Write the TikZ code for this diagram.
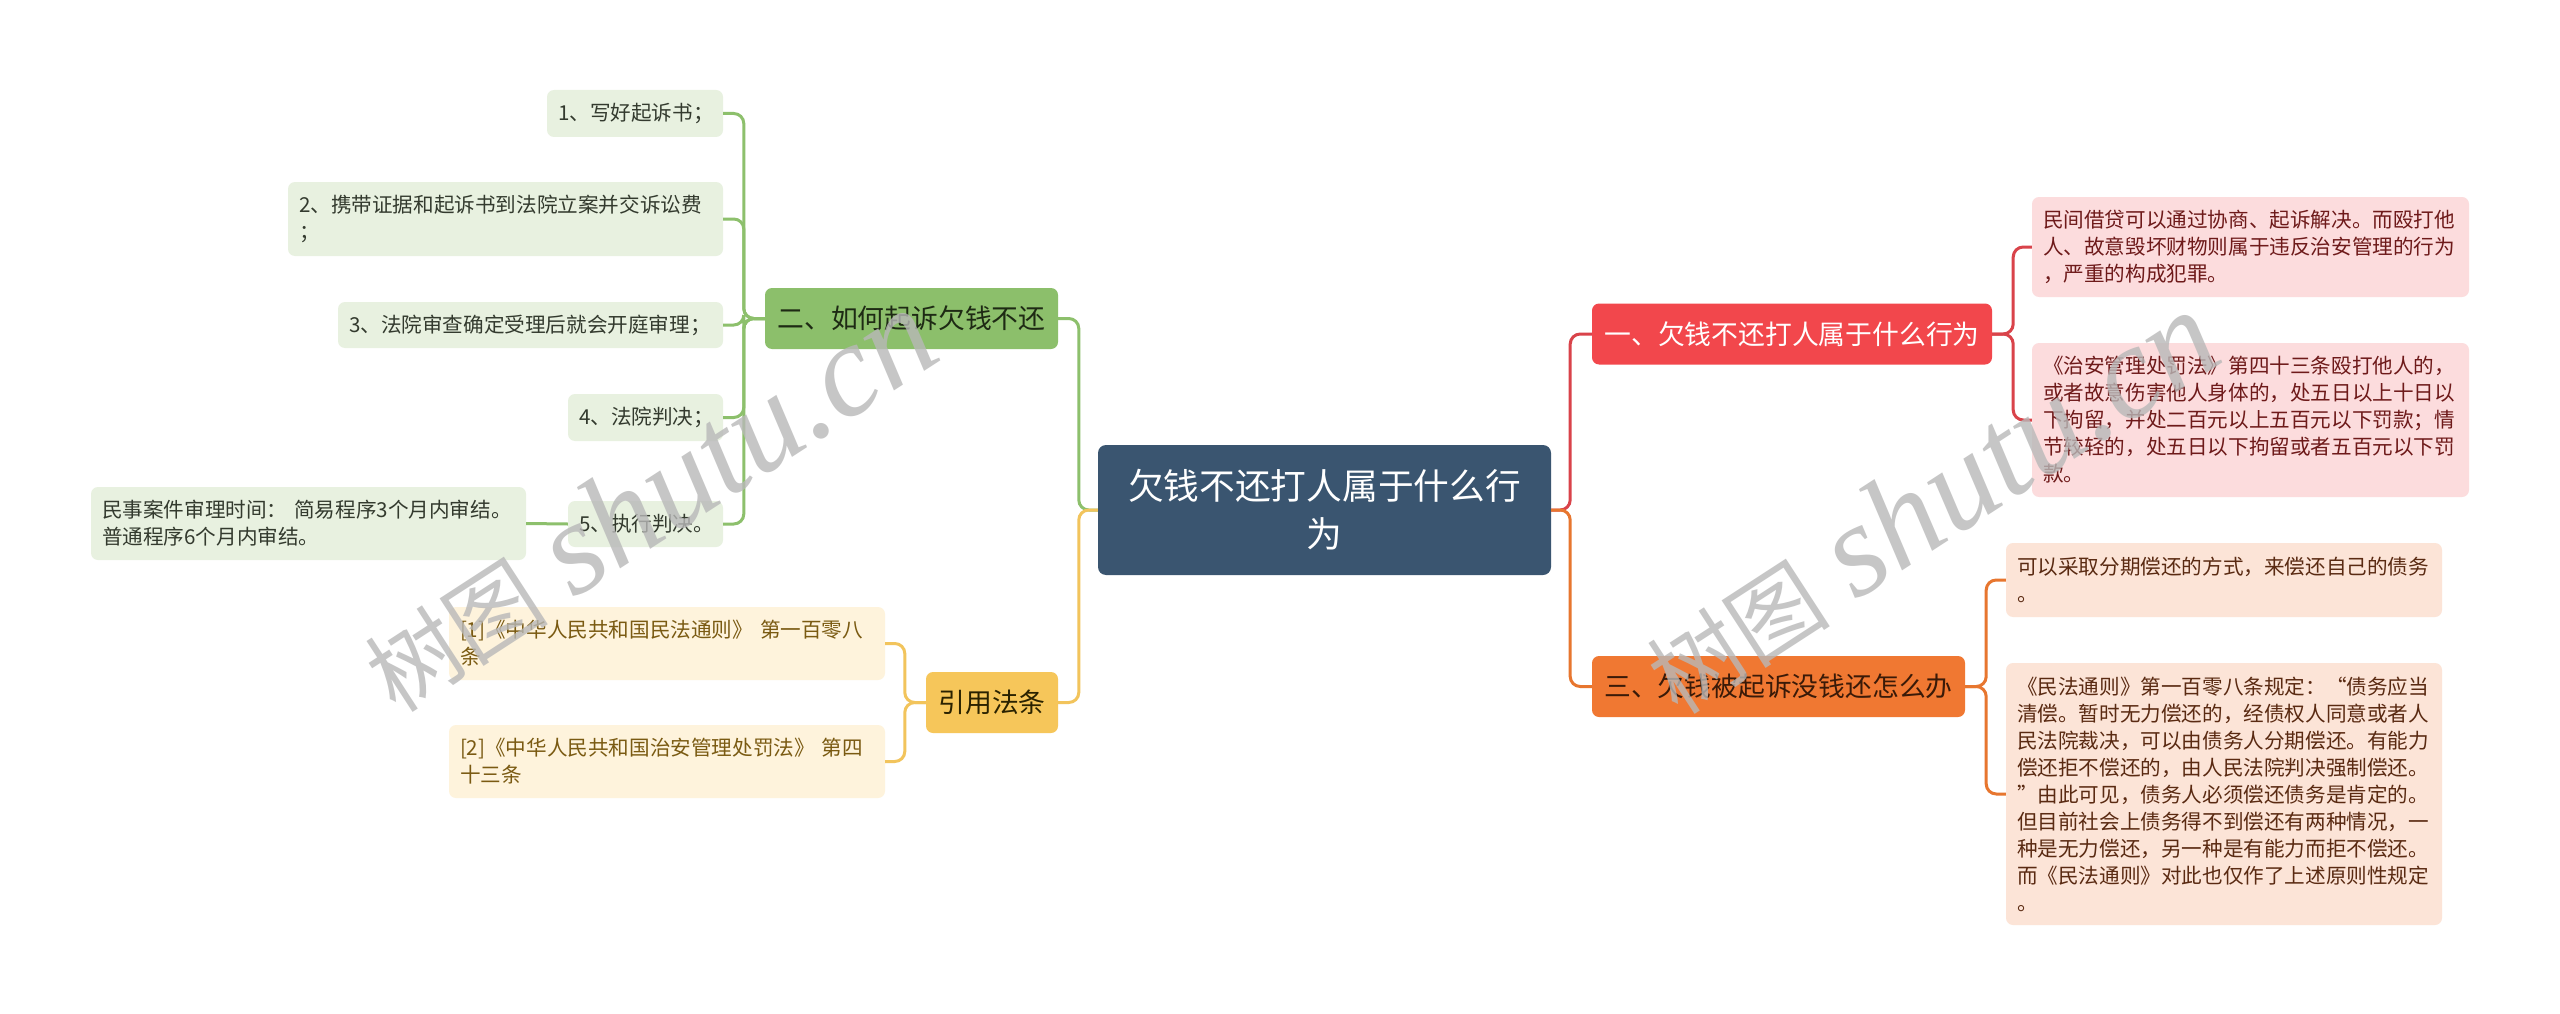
\documentclass[tikz,border=0pt]{standalone}
\usepackage{fontspec}
\setmainfont{Noto Sans CJK SC}
\newfontfamily\wmlatin{Liberation Serif}

\definecolor{rootblue}{HTML}{3A5570}
\definecolor{greenbr}{HTML}{8CBF6B}
\definecolor{greentx}{HTML}{1E2A14}
\definecolor{greenlf}{HTML}{E8F1E0}
\definecolor{greenlftx}{HTML}{333A2E}
\definecolor{greenln}{HTML}{8DC06C}
\definecolor{yellowbr}{HTML}{F6C65A}
\definecolor{yellowtx}{HTML}{2A2200}
\definecolor{yellowlf}{HTML}{FEF3DC}
\definecolor{yellowlftx}{HTML}{7A5A12}
\definecolor{yellowln}{HTML}{F2C45C}
\definecolor{redbr}{HTML}{F2474C}
\definecolor{redlf}{HTML}{FCDCDD}
\definecolor{redlftx}{HTML}{6E1A1A}
\definecolor{redln}{HTML}{D9434A}
\definecolor{orangebr}{HTML}{F07832}
\definecolor{orangetx}{HTML}{3A1A08}
\definecolor{orangelf}{HTML}{FCE4D7}
\definecolor{orangelftx}{HTML}{5A2A12}
\definecolor{orangeln}{HTML}{E7762F}
\definecolor{wmgray}{HTML}{B8B8B8}

\begin{document}
\begin{tikzpicture}[
    x=1pt, y=-1pt,
    topic/.style={
        rectangle, rounded corners=8pt,
        fill=rootblue, text=white,
        minimum width=453pt, minimum height=130pt,
        align=center,
        font=\fontsize{35.7}{48}\selectfont
    },
    branch/.style={
        rectangle, rounded corners=7pt,
        minimum height=61pt, inner xsep=12pt, inner ysep=0pt,
        font=\fontsize{26.8}{32}\selectfont
    },
    leaf/.style={
        rectangle, rounded corners=7pt,
        inner xsep=11pt, inner ysep=0pt,
        align=left,
        font=\fontsize{20.6}{27}\selectfont
    },
    link/.style={line width=3pt, rounded corners=10pt},
    wmark/.style={text=wmgray, text opacity=0.8, inner sep=0pt}
]
\fill[white] (0,0) rectangle (2560,1014);
\useasboundingbox (0,0) rectangle (2560,1014);

% centre
\node[topic] (root) at (1324.5,510) {欠钱不还打人属于什么行\\为};

% left: how to sue
\node[branch, fill=greenbr, text=greentx, minimum width=293pt] (sue) at (911.5,318.5) {二、如何起诉欠钱不还};
\node[leaf, fill=greenlf, text=greenlftx, text width=154pt, minimum height=47pt] (sue1) at (635,113.5) {1、写好起诉书；};
\node[leaf, fill=greenlf, text=greenlftx, text width=413pt, minimum height=74pt] (sue2) at (505.5,219) {2、携带证据和起诉书到法院立案并交诉讼费\\；};
\node[leaf, fill=greenlf, text=greenlftx, text width=363pt, minimum height=46pt] (sue3) at (530.5,325) {3、法院审查确定受理后就会开庭审理；};
\node[leaf, fill=greenlf, text=greenlftx, text width=133pt, minimum height=47pt] (sue4) at (645.5,417.5) {4、法院判决；};
\node[leaf, fill=greenlf, text=greenlftx, text width=133pt, minimum height=46pt] (sue5) at (645.5,524) {5、执行判决。};
\node[leaf, fill=greenlf, text=greenlftx, text width=413pt, minimum height=73pt] (sue5n) at (308.5,523.5) {民事案件审理时间：~简易程序3个月内审结。\\普通程序6个月内审结。};

% left: cited laws
\node[branch, fill=yellowbr, text=yellowtx, minimum width=132pt] (law) at (992,702.5) {引用法条};
\node[leaf, fill=yellowlf, text=yellowlftx, text width=414pt, minimum height=73pt] (law1) at (667,643.5) {[1]《中华人民共和国民法通则》~第一百零八\\条};
\node[leaf, fill=yellowlf, text=yellowlftx, text width=414pt, minimum height=73pt] (law2) at (667,761.5) {[2]《中华人民共和国治安管理处罚法》~第四\\十三条};

% right: what is it
\node[branch, fill=redbr, text=white, minimum width=400pt] (hit) at (1792,334) {一、欠钱不还打人属于什么行为};
\node[leaf, fill=redlf, text=redlftx, text width=415pt, minimum height=100pt] (hit1) at (2250.5,247) {民间借贷可以通过协商、起诉解决。而殴打他\\人、故意毁坏财物则属于违反治安管理的行为\\，严重的构成犯罪。};
\node[leaf, fill=redlf, text=redlftx, text width=415pt, minimum height=154pt] (hit2) at (2250.5,420) {《治安管理处罚法》第四十三条殴打他人的，\\或者故意伤害他人身体的，处五日以上十日以\\下拘留，并处二百元以上五百元以下罚款；情\\节较轻的，处五日以下拘留或者五百元以下罚\\款。};

% right: no money
\node[branch, fill=orangebr, text=orangetx, minimum width=373pt] (owe) at (1778.5,686.5) {三、欠钱被起诉没钱还怎么办};
\node[leaf, fill=orangelf, text=orangelftx, text width=414pt, minimum height=74pt] (owe1) at (2224,580) {可以采取分期偿还的方式，来偿还自己的债务\\。};
\node[leaf, fill=orangelf, text=orangelftx, text width=414pt, minimum height=262pt] (owe2) at (2224,794) {《民法通则》第一百零八条规定：“债务应当\\清偿。暂时无力偿还的，经债权人同意或者人\\民法院裁决，可以由债务人分期偿还。有能力\\偿还拒不偿还的，由人民法院判决强制偿还。\\”由此可见，债务人必须偿还债务是肯定的。\\但目前社会上债务得不到偿还有两种情况，一\\种是无力偿还，另一种是有能力而拒不偿还。\\而《民法通则》对此也仅作了上述原则性规定\\。};

% links
\draw[link, greenln] (root.west) -- ++(-19,0) |- (sue.east);
\draw[link, yellowln] (root.west) -- ++(-19,0) |- (law.east);
\draw[link, redln] (root.east) -- ++(19,0) |- (hit.west);
\draw[link, orangeln] (root.east) -- ++(19,0) |- (owe.west);

\draw[link, greenln] (sue.west) -- ++(-21,0) |- (sue1.east);
\draw[link, greenln] (sue.west) -- ++(-21,0) |- (sue2.east);
\draw[link, greenln] (sue.west) -- ++(-21,0) |- (sue3.east);
\draw[link, greenln] (sue.west) -- ++(-21,0) |- (sue4.east);
\draw[link, greenln] (sue.west) -- ++(-21,0) |- (sue5.east);
\draw[link, greenln] (sue5.west) -- (sue5n.east);

\draw[link, yellowln] (law.west) -- ++(-21,0) |- (law1.east);
\draw[link, yellowln] (law.west) -- ++(-21,0) |- (law2.east);

\draw[link, redln] (hit.east) -- ++(21,0) |- (hit1.west);
\draw[link, redln] (hit.east) -- ++(21,0) |- (hit2.west);

\draw[link, orangeln] (owe.east) -- ++(21,0) |- (owe1.west);
\draw[link, orangeln] (owe.east) -- ++(21,0) |- (owe2.west);

% watermarks
\node[wmark, rotate=33] (wm1) at (648,501) {{\fontsize{92}{92}\selectfont 树图}\hspace{28pt}{\wmlatin\itshape\fontsize{132}{132}\selectfont shutu.cn}};
\node[wmark, rotate=33] (wm2) at (1930,503) {{\fontsize{92}{92}\selectfont 树图}\hspace{28pt}{\wmlatin\itshape\fontsize{132}{132}\selectfont shutu.cn}};
\end{tikzpicture}
\end{document}
